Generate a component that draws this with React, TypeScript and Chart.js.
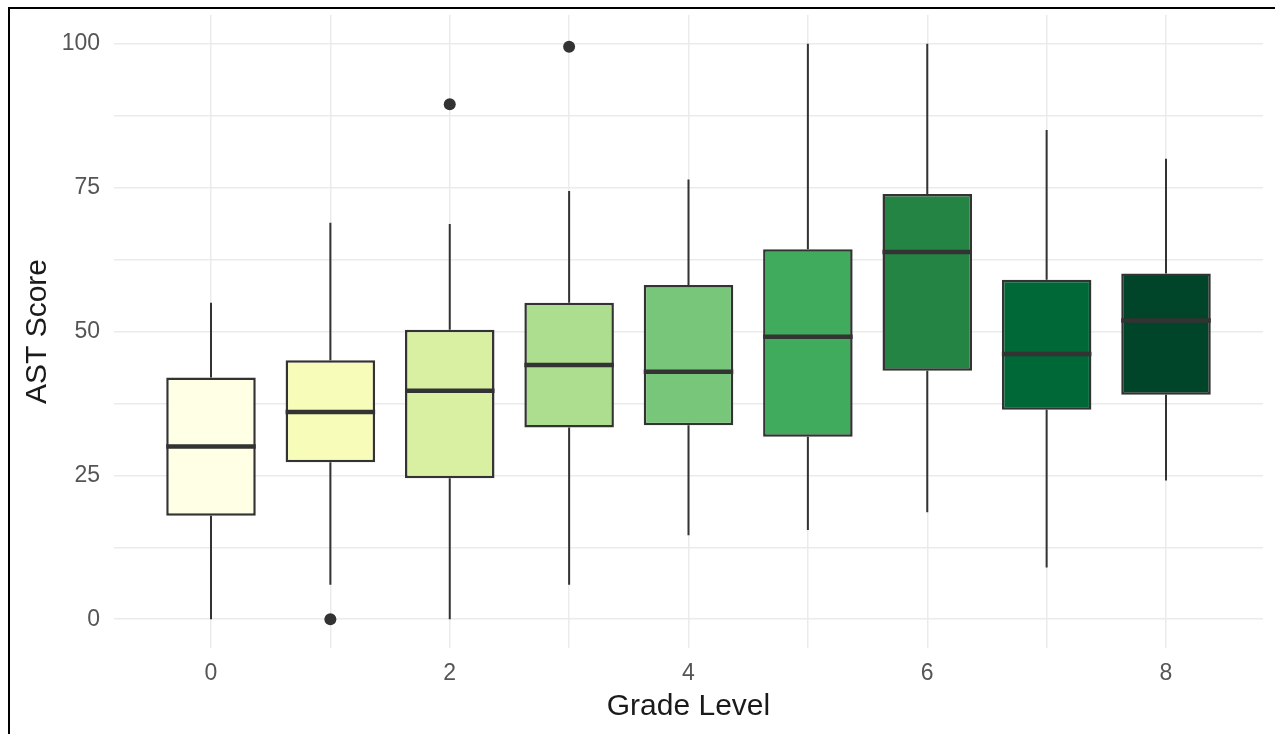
import React, { useEffect, useRef } from "react";
import { Chart, registerables } from "chart.js";

Chart.register(...registerables);

const grades = [0, 1, 2, 3, 4, 5, 6, 7, 8];
const q1 = [18.0, 27.3, 24.5, 33.3, 33.7, 31.7, 43.2, 36.4, 39.0];
const medians = [30.0, 36.0, 39.7, 44.2, 43.0, 49.1, 63.8, 46.1, 51.9];
const q3 = [42.0, 45.0, 50.3, 55.0, 58.1, 64.3, 73.9, 59.0, 60.1];
const whiskerLow = [0, 6, 0, 6, 14.6, 15.5, 18.6, 9.0, 24.1];
const whiskerHigh = [55, 68.9, 68.7, 74.4, 76.4, 100, 100, 85, 80];
const outlierGrades = [1, 2, 3];
const outlierValues = [0, 89.5, 99.5];
const boxColors = ["#ffffe5", "#f7fcb9", "#d9f0a3", "#addd8e", "#78c679", "#41ab5d", "#238443", "#006837", "#004529"];
const yTickValues = [0, 12.5, 25, 37.5, 50, 62.5, 75, 87.5, 100];
const yLabelValues = [0, 25, 50, 75, 100];
const xLabelValues = [0, 2, 4, 6, 8];

const BOX_WIDTH = 0.75;
const FONT = "'Liberation Sans', Arial, sans-serif";

export default function App() {
  const ref = useRef<HTMLCanvasElement | null>(null);

  useEffect(() => {
    if (!ref.current) return;
    const whiskerData: any[] = [];
    grades.forEach((g, i) => {
      whiskerData.push({ x: g, y: whiskerHigh[i] }, { x: g, y: q3[i] }, { x: g, y: null });
      whiskerData.push({ x: g, y: q1[i] }, { x: g, y: whiskerLow[i] }, { x: g, y: null });
    });
    const medianData: any[] = [];
    grades.forEach((g, i) => {
      medianData.push({ x: g - BOX_WIDTH / 2, y: medians[i] }, { x: g + BOX_WIDTH / 2, y: medians[i] }, { x: g, y: null });
    });

    const chart = new Chart(ref.current, {
      type: "bar",
      data: {
        datasets: [
          {
            type: "line",
            data: outlierGrades.map((g, i) => ({ x: g, y: outlierValues[i] })),
            showLine: false,
            pointRadius: 6,
            pointBackgroundColor: "#333333",
            pointBorderWidth: 0,
            order: 0,
          } as any,
          {
            type: "line",
            data: medianData,
            borderColor: "#333333",
            borderWidth: 4.5,
            pointRadius: 0,
            spanGaps: false,
            order: 1,
          } as any,
          {
            type: "bar",
            data: grades.map((g, i) => ({ x: g, y: [q1[i], q3[i]] })),
            backgroundColor: boxColors,
            borderColor: "#333333",
            borderWidth: 2.5,
            borderSkipped: false,
            barPercentage: BOX_WIDTH,
            categoryPercentage: 1,
            order: 2,
          } as any,
          {
            type: "line",
            data: whiskerData,
            borderColor: "#333333",
            borderWidth: 2,
            pointRadius: 0,
            spanGaps: false,
            order: 3,
          } as any,
        ],
      },
      options: {
        animation: false,
        responsive: false,
        layout: { padding: { top: 5, right: 12, left: 0, bottom: 0 } },
        plugins: { legend: { display: false }, tooltip: { enabled: false } },
        scales: {
          x: {
            type: "linear",
            offset: false,
            min: -0.8125,
            max: 8.8125,
            afterBuildTicks: (scale: any) => {
              scale.ticks = grades.map((v) => ({ value: v }));
            },
            afterFit: (scale: any) => {
              scale.height = 86;
              scale.paddingLeft = 0;
              scale.paddingRight = 0;
            },
            grid: { color: "#ebebeb", lineWidth: 1.5, drawTicks: false, offset: false },
            border: { display: false },
            ticks: {
              autoSkip: false,
              maxRotation: 0,
              padding: 12,
              color: "#555555",
              font: { family: FONT, size: 23 },
              callback: (v: any) => (xLabelValues.includes(Number(v)) ? String(v) : ""),
            },
            title: {
              display: true,
              text: "Grade Level",
              color: "#1a1a1a",
              font: { family: FONT, size: 30 },
              padding: { top: 0, bottom: 9 },
            },
          },
          y: {
            type: "linear",
            min: -5,
            max: 105,
            afterBuildTicks: (scale: any) => {
              scale.ticks = yTickValues.map((v) => ({ value: v }));
            },
            afterFit: (scale: any) => {
              scale.width = 104;
              scale.paddingTop = 0;
              scale.paddingBottom = 0;
            },
            grid: { color: "#ebebeb", lineWidth: 1.5, drawTicks: false },
            border: { display: false },
            ticks: {
              padding: 14,
              color: "#555555",
              font: { family: FONT, size: 23 },
              callback: (v: any) => (yLabelValues.includes(Number(v)) ? String(v) : ""),
            },
            title: {
              display: true,
              text: "AST Score",
              color: "#1a1a1a",
              font: { family: FONT, size: 30 },
              padding: { top: 10, bottom: 0 },
            },
          },
        },
      },
    });
    return () => chart.destroy();
  }, []);

  return (
    <div
      style={{
        position: "fixed",
        left: 8,
        top: 7,
        width: 1267,
        height: 727,
        borderTop: "2px solid #000",
        borderLeft: "2px solid #000",
        boxSizing: "border-box",
        background: "#fff",
      }}
    >
      <canvas ref={ref} width={1265} height={725} style={{ display: "block" }} />
    </div>
  );
}
